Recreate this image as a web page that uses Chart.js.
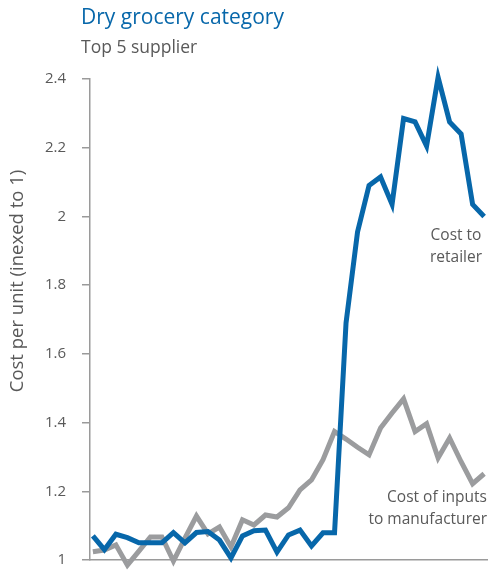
<!DOCTYPE html>
<html>
<head>
<meta charset="utf-8">
<script src="https://cdn.jsdelivr.net/npm/chart.js@4/dist/chart.umd.min.js"></script>
<style>
  html, body { margin: 0; padding: 0; background: #fff; }
  canvas { display: block; }
</style>
</head>
<body>
<canvas id="costChart" width="499" height="571"></canvas>
<script>
// Period index along the x axis (35 observations)
const periods = [0, 1, 2, 3, 4, 5, 6, 7, 8, 9, 10, 11, 12, 13, 14, 15, 16, 17, 18, 19,
  20, 21, 22, 23, 24, 25, 26, 27, 28, 29, 30, 31, 32, 33, 34];

const costToRetailer = [1.07, 1.03, 1.075, 1.065, 1.05, 1.05, 1.05, 1.08, 1.05, 1.08,
  1.083, 1.058, 1.006, 1.07, 1.085, 1.087, 1.023, 1.073, 1.087, 1.041,
  1.079, 1.079, 1.69, 1.955, 2.09, 2.115, 2.035, 2.285, 2.275, 2.205,
  2.405, 2.275, 2.24, 2.035, 2.0];

const costOfInputs = [1.024, 1.029, 1.044, 0.985, 1.026, 1.067, 1.067, 0.997, 1.064, 1.128,
  1.076, 1.096, 1.038, 1.117, 1.102, 1.131, 1.125, 1.152, 1.204, 1.233,
  1.292, 1.374, 1.352, 1.328, 1.306, 1.384, 1.428, 1.469, 1.374, 1.397,
  1.297, 1.355, 1.286, 1.222, 1.251];

const yTicks = [1, 1.2, 1.4, 1.6, 1.8, 2, 2.2, 2.4];
const yTickLabels = ['1', '1.2', '1.4', '1.6', '1.8', '2', '2.2', '2.4'];

const BLUE = '#0767aa';
const GREY = '#9b9c9e';
const TEXT = '#595959';
const AXIS = '#9a9a9a';
const FONT = '"Open Sans", "Noto Sans", sans-serif';

const toPoints = values => values.map((v, i) => ({ x: periods[i], y: v }));

// Headings, rotated axis title and the series captions
const textLayer = {
  id: 'textLayer',
  afterDraw(chart) {
    const ctx = chart.ctx;
    ctx.save();
    ctx.textBaseline = 'middle';

    ctx.fillStyle = BLUE;
    ctx.font = '21px ' + FONT;
    ctx.textAlign = 'left';
    ctx.fillText('Dry grocery category', 81, 18);

    ctx.fillStyle = TEXT;
    ctx.font = '17.5px ' + FONT;
    ctx.fillText('Top 5 supplier', 81, 48);

    ctx.font = '15.5px ' + FONT;
    ctx.textAlign = 'center';
    ctx.fillText('Cost to', 456, 236);
    ctx.fillText('retailer', 456, 258);

    ctx.textAlign = 'right';
    ctx.fillText('Cost of inputs', 487, 498);
    ctx.fillText('to manufacturer', 487, 520);

    ctx.translate(18, 281);
    ctx.rotate(-Math.PI / 2);
    ctx.textAlign = 'center';
    ctx.font = '18.5px ' + FONT;
    ctx.fillText('Cost per unit (inexed to 1)', 0, 0);
    ctx.restore();
  }
};

const costChart = new Chart(document.getElementById('costChart').getContext('2d'), {
  type: 'line',
  data: {
    datasets: [{
      label: 'Cost to retailer',
      data: toPoints(costToRetailer),
      borderColor: BLUE,
      borderWidth: 5,
      pointRadius: 0,
      tension: 0,
      clip: false
    }, {
      label: 'Cost of inputs to manufacturer',
      data: toPoints(costOfInputs),
      borderColor: GREY,
      borderWidth: 5,
      pointRadius: 0,
      tension: 0,
      clip: false
    }]
  },
  options: {
    responsive: false,
    animation: false,
    layout: { padding: { top: 79, right: 12, bottom: 11, left: 0 } },
    plugins: {
      legend: { display: false },
      tooltip: { enabled: false }
    },
    scales: {
      x: {
        type: 'linear',
        min: -0.25,
        max: 34.25,
        ticks: { display: false },
        grid: { display: false },
        border: { display: true, color: AXIS, width: 1.5 },
        afterFit: axis => { axis.height = 0; }
      },
      y: {
        min: 1,
        max: 2.4,
        afterBuildTicks: axis => { axis.ticks = yTicks.map(v => ({ value: v })); },
        afterFit: axis => {
          axis.width = 90;
          axis.paddingTop = 0;
          axis.paddingBottom = 0;
        },
        ticks: {
          padding: 16,
          color: TEXT,
          font: { family: FONT, size: 15 },
          callback: value => yTickLabels[yTicks.indexOf(+value.toFixed(1))]
        },
        grid: {
          drawOnChartArea: false,
          drawTicks: true,
          tickLength: 8,
          color: AXIS,
          lineWidth: 1.5
        },
        border: { display: true, color: AXIS, width: 1.5 }
      }
    }
  },
  plugins: [textLayer]
});
</script>
</body>
</html>
